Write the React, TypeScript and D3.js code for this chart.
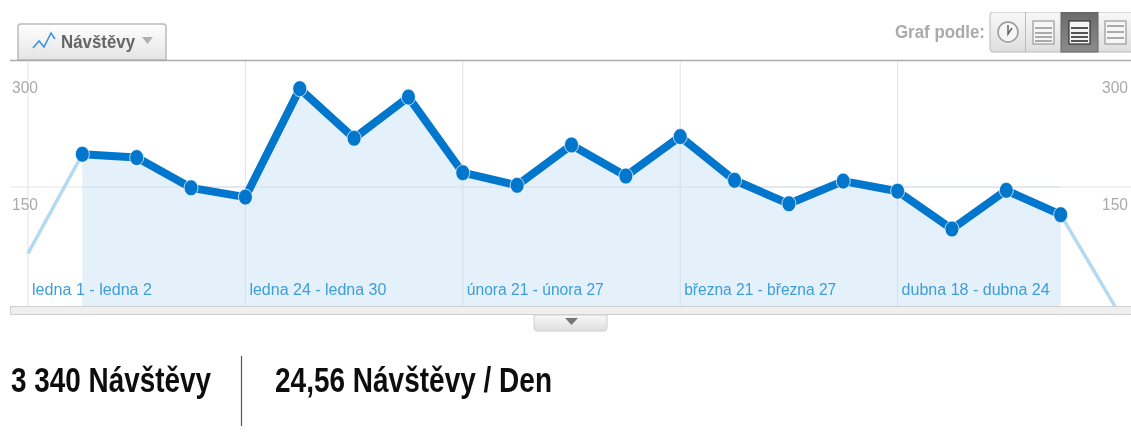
import * as d3 from 'd3';
import React from 'react';

// Weekly visits, first and last periods are partial
const weeks: string[] = [
    'ledna 1 - ledna 2', 'ledna 3 - ledna 9', 'ledna 10 - ledna 16', 'ledna 17 - ledna 23',
    'ledna 24 - ledna 30', 'ledna 31 - února 6', 'února 7 - února 13', 'února 14 - února 20',
    'února 21 - února 27', 'února 28 - března 6', 'března 7 - března 13', 'března 14 - března 20',
    'března 21 - března 27', 'března 28 - dubna 3', 'dubna 4 - dubna 10', 'dubna 11 - dubna 17',
    'dubna 18 - dubna 24', 'dubna 25 - května 1', 'května 2 - května 8', 'května 9 - května 15',
    'května 16',
];
const visits: number[] = [71, 189, 185, 149, 138, 267, 208, 257, 167, 152, 200, 163, 210, 158, 130, 157, 145, 100, 146, 117, 8];
const labelledWeeks: number[] = [0, 4, 8, 12, 16];
const yTicks: number[] = [300, 150];
const tabTitle = 'Návštěvy';
const graphBy = 'Graf podle:';
const totalVisits = '3 340 Návštěvy';
const averageVisits = '24,56 Návštěvy / Den';

const width = 1131;
const height = 441;
const sans = '"Liberation Sans", Arial, sans-serif';
const lineBlue = '#0577cc';
const lightBlue = '#b4daf2';
const areaBlue = '#e4f0fa';
// rendered widths of the date labels, the original text is squeezed
const labelWidths: number[] = [120, 137, 137, 152, 148];

const xScale = d3.scaleLinear().domain([0, weeks.length - 1]).range([28, 1115]);
const yScale = d3.scaleLinear().domain([0, 300]).range([313, 61]);
const baseline = 306;

const points = visits.map((v, i) => ({ v, i }));
const full = points.slice(1, -1);
const lineFull = d3.line<any>().x((d) => xScale(d.i)).y((d) => yScale(d.v));
const areaFull = d3.area<any>().x((d) => xScale(d.i)).y0(baseline).y1((d) => yScale(d.v));

// little icons in the "Graf podle" switch
const Sheet = ({ x, bars, dark }: { x: number; bars: number[]; dark?: boolean }) => (
    <g>
        <rect x={x} y={21} width={21} height={23} fill={dark ? '#f4f4f4' : '#f6f6f6'} stroke={dark ? '#333' : '#999'} strokeWidth={1.2} />
        {bars.map((b) => (
            <rect key={b} x={x + 2} y={b} width={17} height={2} fill={dark ? '#555' : '#aaa'} />
        ))}
    </g>
);

export default function App() {
    return (
        <svg width={width} height={height} style={{ position: 'absolute', left: 0, top: 0, fontFamily: sans }}>
            <defs>
                <linearGradient id="tab" x1="0" y1="0" x2="0" y2="1">
                    <stop offset="0%" stopColor="#ffffff" />
                    <stop offset="100%" stopColor="#e4e4e4" />
                </linearGradient>
                <linearGradient id="btn" x1="0" y1="0" x2="0" y2="1">
                    <stop offset="0%" stopColor="#f8f8f8" />
                    <stop offset="100%" stopColor="#dedede" />
                </linearGradient>
                <linearGradient id="btnDark" x1="0" y1="0" x2="0" y2="1">
                    <stop offset="0%" stopColor="#6a6a6a" />
                    <stop offset="100%" stopColor="#8c8c8c" />
                </linearGradient>
                <filter id="soft" x="0" y="0" width="100%" height="100%">
                    <feGaussianBlur stdDeviation="0.45" />
                </filter>
            </defs>
            <g filter="url(#soft)">
                {/* header */}
                <path d="M18,60 V27 Q18,24 21,24 H163 Q166,24 166,27 V60 Z" fill="url(#tab)" stroke="#bbb" strokeWidth={1.5} />
                <line x1={10} x2={width} y1={60.5} y2={60.5} stroke="#aaa" strokeWidth={1.5} />
                <path d="M33,48 L39,41 L44,47 L51,33 L55,39" fill="none" stroke="#3d94dc" strokeWidth={1.6} />
                <text x={61} y={48} fontSize={18} fontWeight="bold" fill="#666" textLength={74} lengthAdjust="spacingAndGlyphs">{tabTitle}</text>
                <path d="M142,37 H153 L147.5,44 Z" fill="#b0b0b0" />

                <text x={895} y={38} fontSize={18} fontWeight="bold" fill="#aaa" textLength={90} lengthAdjust="spacingAndGlyphs">{graphBy}</text>
                <rect x={990} y={12} width={145} height={40} rx={3} fill="url(#btn)" stroke="#bbb" />
                <rect x={1061} y={12} width={37} height={40} fill="url(#btnDark)" stroke="#666" />
                <line x1={1025.5} x2={1025.5} y1={12} y2={52} stroke="#bbb" />
                <circle cx={1008} cy={32} r={10} fill="#f6f6f6" stroke="#999" strokeWidth={1.5} />
                <path d="M1008,25 V34 L1012,28" fill="none" stroke="#666" strokeWidth={1.5} />
                <Sheet x={1033} bars={[27, 32, 36, 40]} />
                <Sheet x={1069} bars={[27, 32, 36, 40]} dark />
                <Sheet x={1105} bars={[25, 31, 37]} />

                {/* grid */}
                {labelledWeeks.map((i) => (
                    <line key={i} x1={xScale(i)} x2={xScale(i)} y1={61} y2={baseline} stroke="#e2e2e2" />
                ))}
                <line x1={10} x2={width} y1={yScale(150)} y2={yScale(150)} stroke="#e6e6e6" />

                {/* series */}
                <path d={areaFull(full) ?? ''} fill={areaBlue} />
                {labelledWeeks.filter((i) => i > 0).map((i) => (
                    <line key={i} x1={xScale(i)} x2={xScale(i)} y1={yScale(visits[i])} y2={baseline} stroke="#d2dfe9" />
                ))}
                <line x1={xScale(1)} x2={xScale(19)} y1={yScale(150)} y2={yScale(150)} stroke="#d2dfe9" />
                <path d={lineFull(points.slice(0, 2)) ?? ''} fill="none" stroke={lightBlue} strokeWidth={3.5} />
                <path d={lineFull(points.slice(-2)) ?? ''} fill="none" stroke={lightBlue} strokeWidth={3.5} />
                <path d={lineFull(full) ?? ''} fill="none" stroke={lineBlue} strokeWidth={8} strokeLinejoin="round" />
                {full.map((d) => (
                    <ellipse key={d.i} cx={xScale(d.i)} cy={yScale(d.v)} rx={7} ry={8} fill={lineBlue} stroke="#ffffff" strokeOpacity={0.7} strokeWidth={1} />
                ))}

                {/* axis labels */}
                {yTicks.map((t) => (
                    <g key={t} fontSize={16} fill="#aaaaaa">
                        <text x={12} y={yScale(t) + (t === 300 ? 32 : 23)} textLength={26} lengthAdjust="spacingAndGlyphs">{t}</text>
                        <text x={1102} y={yScale(t) + (t === 300 ? 32 : 23)} textLength={26} lengthAdjust="spacingAndGlyphs">{t}</text>
                    </g>
                ))}
                {labelledWeeks.map((i, n) => (
                    <text key={i} x={xScale(i) + 4} y={295} fontSize={16} fill="#3d9ed8" textLength={labelWidths[n]} lengthAdjust="spacingAndGlyphs">{weeks[i]}</text>
                ))}

                {/* bottom bar and handle */}
                <rect x={10.5} y={306.5} width={width} height={8} fill="#efefef" stroke="#cfcfcf" />
                <path d="M534,315 H607 V328 Q607,331 604,331 H537 Q534,331 534,328 Z" fill="url(#btn)" stroke="#d0d0d0" />
                <path d="M565,318 H578 L571.5,325 Z" fill="#777" />

                {/* totals */}
                <text x={11} y={392} fontSize={35} fontWeight="bold" fill="#111" textLength={200} lengthAdjust="spacingAndGlyphs">{totalVisits}</text>
                <line x1={241.5} x2={241.5} y1={356} y2={426} stroke="#555" strokeWidth={1.2} />
                <text x={275} y={392} fontSize={35} fontWeight="bold" fill="#111" textLength={277} lengthAdjust="spacingAndGlyphs">{averageVisits}</text>
            </g>
        </svg>
    );
}
